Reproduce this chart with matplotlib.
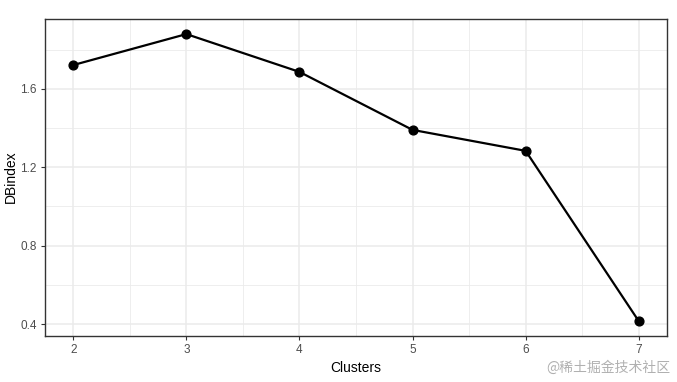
import matplotlib
matplotlib.use("Agg")
import matplotlib.pyplot as plt
from matplotlib.ticker import MultipleLocator

clusters = [2, 3, 4, 5, 6, 7]
dbindex = [1.722, 1.880, 1.687, 1.391, 1.284, 0.415]
yticks = [0.4, 0.8, 1.2, 1.6]
ytick_labels = ["0.4", "0.8", "1.2", "1.6"]

plt.rcParams['font.family'] = ['Liberation Sans', 'DejaVu Sans']
W, H = 677, 382
fig = plt.figure(figsize=(W/100, H/100), dpi=100)
ax = fig.add_axes([45/W, (H-336)/H, (667-45)/W, (336-19)/H])

ax.plot(clusters, dbindex, color='black', lw=1.6, zorder=3)
ax.scatter(clusters, dbindex, color='black', s=40, zorder=4)

ax.set_xlim(1.75, 7.25)
ax.set_ylim(0.339, 1.957)
ax.set_xticks(clusters)
ax.set_xticklabels([str(c) for c in clusters])
ax.set_yticks(yticks)
ax.set_yticklabels(ytick_labels)
ax.xaxis.set_minor_locator(MultipleLocator(0.5))
ax.yaxis.set_minor_locator(MultipleLocator(0.2))
ax.grid(which='major', color='#EBEBEB', lw=1.1, zorder=0)
ax.grid(which='minor', color='#EBEBEB', lw=0.6, zorder=0)
ax.set_axisbelow(True)
ax.tick_params(which='minor', length=0)
ax.tick_params(which='major', length=3, color='#333333', labelsize=8.5, labelcolor='#4D4D4D', width=0.8, pad=3)
for s in ax.spines.values():
    s.set_color('#333333')
    s.set_linewidth(1.0)

ax.set_xlabel("Clusters", fontsize=10, color='black')
ax.set_ylabel("DBindex", fontsize=10, color='black')
ax.xaxis.set_label_coords(0.5, -(368 - 336) / (336 - 19))
ax.yaxis.set_label_coords(-(45 - 11) / (667 - 45), (336 - 177) / (336 - 19))
ax.xaxis.label.set_va('center')
ax.yaxis.label.set_va('center')

fig.text(670/W, 1 - 368/H, "@稀土掘金技术社区", ha='right', va='center', fontsize=10,
         color='#B0B0B0', family=['Noto Sans CJK SC', 'DejaVu Sans'])

fig.savefig("out.png", dpi=100)
